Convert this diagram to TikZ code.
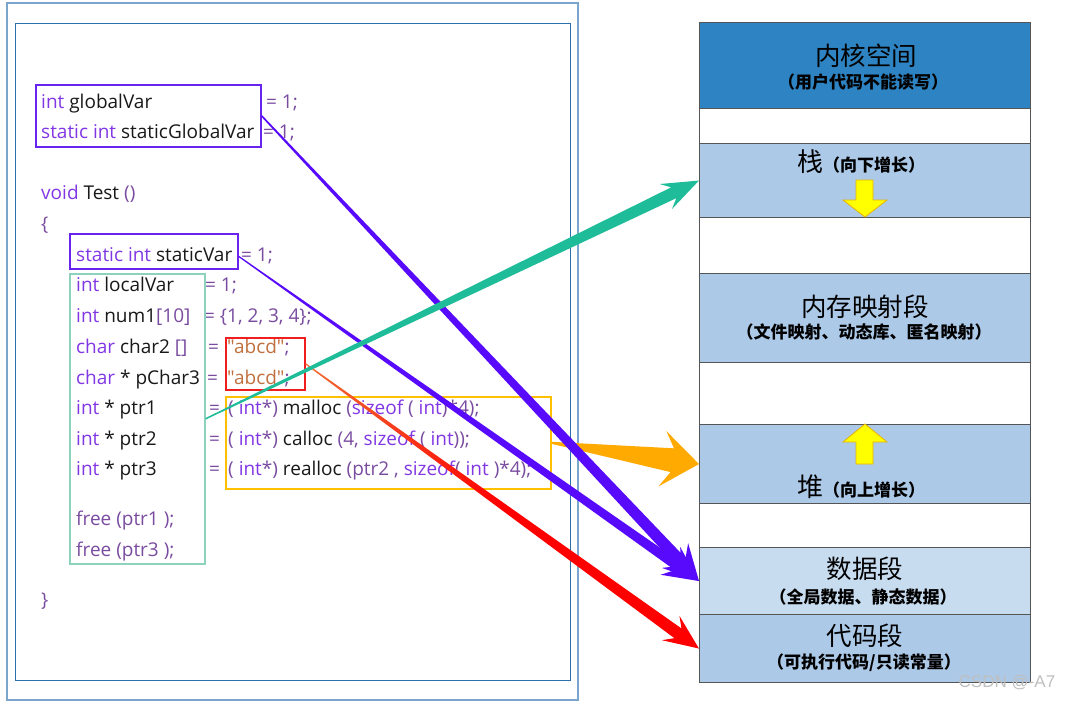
\documentclass[tikz,border=0pt]{standalone}
\usepackage{fontspec}
\usetikzlibrary{calc}
\newfontfamily\codefont{Open Sans}
\newfontfamily\cjk{Noto Sans CJK SC}
\newfontfamily\wmfont{Liberation Sans}
\definecolor{kwc}{RGB}{130,55,228}
\definecolor{opc}{RGB}{122,76,160}
\definecolor{strc}{RGB}{192,112,62}
\definecolor{idc}{RGB}{25,25,25}
\definecolor{pboxc}{RGB}{105,35,240}
\definecolor{tboxc}{RGB}{140,210,188}
\definecolor{rboxc}{RGB}{240,30,30}
\definecolor{oboxc}{RGB}{255,192,0}
\definecolor{purpc}{RGB}{88,10,252}
\definecolor{tealc}{RGB}{30,188,152}
\definecolor{orangec}{RGB}{255,170,0}
\definecolor{redstart}{RGB}{240,110,50}
\definecolor{kernc}{RGB}{46,132,194}
\definecolor{segc}{RGB}{172,201,232}
\definecolor{datac}{RGB}{200,220,240}
\definecolor{segline}{RGB}{85,85,85}
\definecolor{outerc}{RGB}{122,166,204}
\definecolor{innerc}{RGB}{42,112,170}
\definecolor{yelc}{RGB}{255,255,0}
\definecolor{yeld}{RGB}{232,180,0}
\newcommand\cf{\codefont\fontsize{19pt}{22pt}\selectfont}
\newcommand\ckw[1]{\textcolor{kwc}{#1}}
\newcommand\cop[1]{\textcolor{opc}{#1}}
\newcommand\cstr[1]{\textcolor{strc}{#1}}
\newcommand\taperarrow[8]{%
  \path (#3) coordinate (ta-tip)
        ($(#3)!#6!(#2)$) coordinate (ta-n)
        ($(#3)!#7!(#2)$) coordinate (ta-w);
  \path[#1] ($(#2)!#4!90:(#3)$) -- ($(ta-n)!#5!90:(ta-tip)$) -- ($(ta-w)!#8!90:(ta-tip)$)
     -- (ta-tip) -- ($(ta-w)!#8!-90:(ta-tip)$) -- ($(ta-n)!#5!-90:(ta-tip)$)
     -- ($(#2)!#4!-90:(#3)$) -- cycle;
}
\tikzset{
  code/.style={anchor=base west, inner sep=0pt, font=\cf, text=idc},
  cbox/.style={draw=#1, line width=1.6pt, anchor=north west, inner sep=0pt},
  seg/.style={draw=segline, line width=1.1pt, anchor=north west, minimum width=331pt, inner sep=0pt},
  ttl/.style={font=\cjk\fontsize{25.5pt}{27pt}\selectfont, inner sep=0pt},
  sub/.style={font=\cjk\bfseries\fontsize{17pt}{19pt}\selectfont, inner sep=0pt},
  yarrow/.style={fill=yelc, draw=yeld, line width=0.8pt, line join=miter}
}
\begin{document}
\begin{tikzpicture}[x=1pt,y=-1pt]
\useasboundingbox[fill=white] (0,0) rectangle (1074,702);
% frames
\draw[outerc, line width=1.2pt] (7,3) rectangle (578,700);
\draw[innerc, line width=1pt] (15,23) rectangle (570,680);
% code
\node[code] (l1a) at (41,108) {\ckw{int} globalVar};
\node[code] (l1b) at (266,108) {\cop{= 1;}};
\node[code] (l2a) at (41,138) {\ckw{static int} staticGlobalVar};
\node[code] (l2b) at (263,138) {\cop{= 1;}};
\node[code] (l3a) at (41,199) {\ckw{void} Test \cop{()}};
\node[code] (l4a) at (41,230) {\cop{\{}};
\node[code] (l5a) at (76,261) {\ckw{static int} staticVar};
\node[code] (l5b) at (241,261) {\cop{= 1;}};
\node[code] (l6a) at (76,291) {\ckw{int} localVar};
\node[code] (l6b) at (205,291) {\cop{= 1;}};
\node[code] (l7a) at (76,322) {\ckw{int} num1\cop{[10]}};
\node[code] (l7b) at (204,322) {\cop{= \{1, 2, 3, 4\};}};
\node[code] (l8a) at (76,353) {\ckw{char} char2 \cop{[]}};
\node[code] (l8b) at (208,353) {\cop{=}};
\node[code] (l8c) at (227,353) {\cstr{"abcd"}\cop{;}};
\node[code] (l9a) at (76,384) {\ckw{char} * pChar3};
\node[code] (l9b) at (207,384) {\cop{=}};
\node[code] (l9c) at (227,384) {\cstr{"abcd"}\cop{;}};
\node[code] (l10a) at (76,414) {\ckw{int} * ptr1};
\node[code] (l10b) at (209,414) {\cop{=}};
\node[code] (l10c) at (228,414) {\cop{(} \ckw{int}\cop{*)} malloc \cop{(}\ckw{sizeof} \cop{(} \ckw{int}\cop{)*4);}};
\node[code] (l11a) at (76,445) {\ckw{int} * ptr2};
\node[code] (l11b) at (209,445) {\cop{=}};
\node[code] (l11c) at (228,445) {\cop{(} \ckw{int}\cop{*)} calloc \cop{(4,} \ckw{sizeof} \cop{(} \ckw{int}\cop{));}};
\node[code] (l12a) at (76,475) {\ckw{int} * ptr3};
\node[code] (l12b) at (209,475) {\cop{=}};
\node[code] (l12c) at (228,475) {\cop{(} \ckw{int}\cop{*)} realloc \cop{(ptr2 ,} \ckw{sizeof}\cop{(} \ckw{int} \cop{)*4);}};
\node[code] (l13a) at (76,525) {\cop{free (ptr1 );}};
\node[code] (l14a) at (76,556) {\cop{free (ptr3 );}};
\node[code] (l15a) at (41,606) {\cop{\}}};
% code boxes
\node[cbox=pboxc, minimum width=225pt, minimum height=62pt] (gbox) at (35,84) {};
\node[cbox=pboxc, minimum width=168pt, minimum height=35pt] (sbox) at (69,233) {};
\node[cbox=tboxc, minimum width=135pt, minimum height=290pt] (tbox) at (69,273) {};
\node[cbox=rboxc, minimum width=79pt, minimum height=52pt] (rbox) at (225,337) {};
\node[cbox=oboxc, minimum width=325pt, minimum height=92pt] (obox) at (225,396) {};
% memory layout
\node[seg, fill=kernc, minimum height=86pt] (kernel) at (699,22) {};
\node[seg, fill=white, minimum height=35pt] (gap1) at (699,108) {};
\node[seg, fill=segc, minimum height=74pt] (stack) at (699,143) {};
\node[seg, fill=white, minimum height=56pt] (gap2) at (699,217) {};
\node[seg, fill=segc, minimum height=89pt] (mmap) at (699,273) {};
\node[seg, fill=white, minimum height=62pt] (gap3) at (699,362) {};
\node[seg, fill=segc, minimum height=79pt] (heap) at (699,424) {};
\node[seg, fill=white, minimum height=44pt] (gap4) at (699,503) {};
\node[seg, fill=datac, minimum height=67pt] (data) at (699,547) {};
\node[seg, fill=segc, minimum height=68pt] (code) at (699,614) {};
% labels
\node[ttl] (kt) at (866,56) {内核空间};
\node[sub] (ks) at (863,82) {（用户代码不能读写）};
\node[anchor=base, inner sep=0pt] (st) at (861,171) {\cjk\fontsize{26pt}{27pt}\selectfont 栈\bfseries\fontsize{17pt}{19pt}\selectfont （向下增长）};
\node[ttl] (mt) at (865,307) {内存映射段};
\node[sub] (ms) at (864,332) {（文件映射、动态库、匿名映射）};
\node[anchor=base, inner sep=0pt] (ht) at (861,496) {\cjk\fontsize{26pt}{27pt}\selectfont 堆\bfseries\fontsize{17pt}{19pt}\selectfont （向上增长）};
\node[ttl] (dt) at (865,569) {数据段};
\node[sub] (ds) at (863,597) {（全局数据、静态数据）};
\node[ttl] (ct) at (865,636) {代码段};
\node[sub] (cs) at (864,663) {（可执行代码/只读常量）};
% growth arrows
\draw[yarrow] (856,180) -- (873,180) -- (873,200) -- (887,200) -- (865,217) -- (843,200) -- (856,200) -- cycle;
\draw[yarrow] (865,424) -- (887,442) -- (873,442) -- (873,464) -- (856,464) -- (856,442) -- (843,442) -- cycle;
% connectors
\coordinate (gstart) at ($(gbox.east)+(0,0)$);
\coordinate (sstart) at ($(sbox.east)+(0,5)$);
\taperarrow{fill=orangec}{obox.east}{heap.west}{1pt}{12pt}{27pt}{37pt}{28pt}
\taperarrow{fill=purpc}{gstart}{data.west}{0.8pt}{6pt}{26pt}{35pt}{18pt}
\taperarrow{fill=purpc}{sstart}{data.west}{0.6pt}{5pt}{26pt}{35pt}{17pt}
\taperarrow{left color=redstart, right color=red, middle color=red}{rbox.east}{code.west}{0.6pt}{6pt}{26pt}{35pt}{15pt}
\taperarrow{fill=tealc}{tbox.east}{stack.west}{0.7pt}{6pt}{28pt}{37pt}{14pt}
% watermark text
\node[inner sep=0pt, text=black!25, font=\wmfont\fontsize{17pt}{19pt}\selectfont] (csdn) at (1007,683) {CSDN @-A7};
\end{tikzpicture}
\end{document}
